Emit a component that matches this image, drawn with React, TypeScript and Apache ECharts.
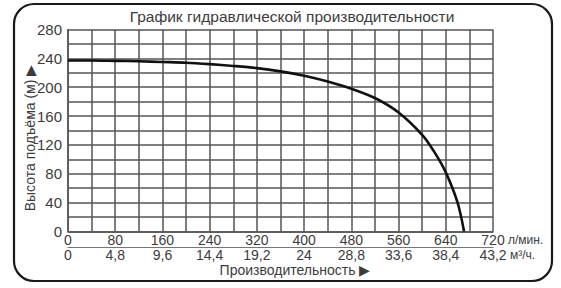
import React, { useEffect, useRef } from "react";
import * as echarts from "echarts";

const titleText = "График гидравлической производительности";
const yAxisName = "Высота подъёма (м) ▶";
const xAxisName = "Производительность ▶";
const unitLpm = "л/мин.";
const unitM3h = "м³/ч.";

// flow in l/min, head in m
const flowLpm = [0, 40, 80, 120, 160, 200, 240, 280, 320, 360, 400, 440, 480, 520, 560, 600, 620, 640, 660, 671];
const headM = [237, 237, 236.5, 236, 235, 234, 232, 229.5, 226.5, 222, 216, 208, 198, 185, 165, 134, 111, 82, 40, 0];

const m3hLabels = ["0", "4,8", "9,6", "14,4", "19,2", "24", "28,8", "33,6", "38,4", "43,2"];

const FONT = "Liberation Sans, Arial, sans-serif";
const TXT = "#3c3c3c";
const GRID = "#555555";

export default function App() {
  const ref = useRef<HTMLDivElement>(null);
  useEffect(() => {
    const chart = echarts.init(ref.current!, null, { renderer: "svg" });
    const gridLine = { show: true, lineStyle: { color: GRID, width: 1.5 } };
    chart.setOption({
      animation: false,
      backgroundColor: "#ffffff",
      grid: { left: 68, top: 29.5, width: 425, height: 202, containLabel: false },
      xAxis: [
        {
          type: "value",
          min: 0,
          max: 720,
          interval: 80,
          position: "bottom",
          axisLine: { show: true, lineStyle: { color: GRID, width: 1.5 } },
          axisTick: { show: false },
          minorTick: { show: false, splitNumber: 2 },
          splitLine: gridLine,
          minorSplitLine: gridLine,
          axisLabel: { color: TXT, fontSize: 14, fontFamily: FONT, margin: 1 },
        },
        {
          type: "value",
          min: 0,
          max: 720,
          interval: 80,
          position: "bottom",
          offset: 15.5,
          axisLine: { show: true, lineStyle: { color: "#777", width: 1 } },
          axisTick: { show: false },
          splitLine: { show: false },
          axisLabel: {
            color: TXT,
            fontSize: 14,
            fontFamily: FONT,
            margin: 1,
            formatter: (v: number) => m3hLabels[Math.round(v / 80)] ?? "",
          },
        },
      ],
      yAxis: {
        type: "value",
        min: 0,
        max: 280,
        interval: 40,
        axisLine: { show: true, lineStyle: { color: GRID, width: 1.5 } },
        axisTick: { show: false },
        minorTick: { show: false, splitNumber: 2 },
        splitLine: gridLine,
        minorSplitLine: gridLine,
        axisLabel: { color: TXT, fontSize: 15, fontFamily: FONT, margin: 6 },
      },
      series: [
        {
          type: "line",
          xAxisIndex: 0,
          data: flowLpm.map((f, i) => [f, headM[i]]),
          smooth: 0.3,
          showSymbol: false,
          lineStyle: { color: "#111", width: 2.6 },
          z: 5,
        },
      ],
      graphic: [
        {
          type: "rect",
          shape: { x: 14, y: 4, width: 538, height: 277, r: 20 },
          style: { fill: "none", stroke: "#1a1a1a", lineWidth: 2.2 },
          silent: true,
        },
        {
          type: "text",
          x: 292,
          y: 16.5,
          style: {
            text: titleText,
            fill: TXT,
            font: `15.5px ${FONT}`,
            textAlign: "center",
            textVerticalAlign: "middle",
          },
        },
        {
          type: "text",
          x: 30,
          y: 138,
          rotation: Math.PI / 2,
          style: {
            text: yAxisName,
            fill: TXT,
            font: `14px ${FONT}`,
            textAlign: "center",
            textVerticalAlign: "middle",
          },
        },
        {
          type: "text",
          x: 295,
          y: 270,
          style: {
            text: xAxisName,
            fill: TXT,
            font: `14px ${FONT}`,
            textAlign: "center",
            textVerticalAlign: "middle",
          },
        },
        {
          type: "text",
          x: 508,
          y: 240,
          style: {
            text: unitLpm,
            fill: TXT,
            font: `12px ${FONT}`,
            textAlign: "left",
            textVerticalAlign: "middle",
          },
        },
        {
          type: "text",
          x: 510,
          y: 255,
          style: {
            text: unitM3h,
            fill: TXT,
            font: `12px ${FONT}`,
            textAlign: "left",
            textVerticalAlign: "middle",
          },
        },
      ],
    });
    return () => chart.dispose();
  }, []);
  return (
    <div
      ref={ref}
      style={{ position: "fixed", left: 0, top: 0, width: 561, height: 288 }}
    />
  );
}
